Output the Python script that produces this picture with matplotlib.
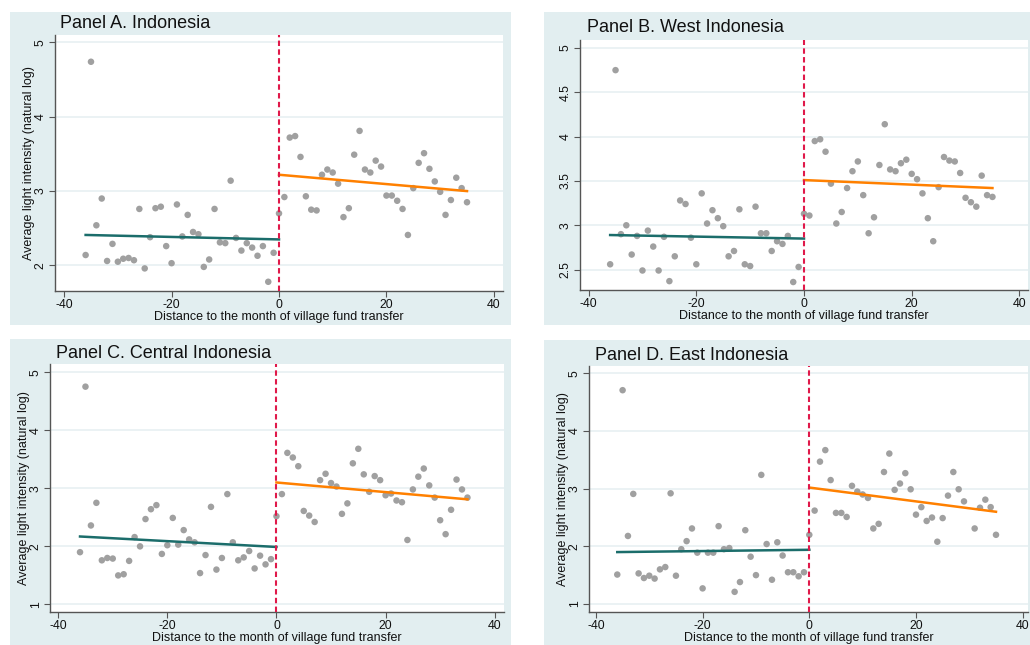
import matplotlib
matplotlib.use("Agg")
import matplotlib.pyplot as plt
from matplotlib.patches import Rectangle

plt.rcParams['font.family'] = ['Liberation Sans', 'DejaVu Sans']

# months relative to village fund transfer
months_pre = list(range(-36, 0))
months_post = list(range(0, 36))
months_post_east = [m for m in range(0, 36) if m != 30]  # month 30 missing in panel D

# Panel A. Indonesia
a_pre = [2.14, 4.74, 2.54, 2.90, 2.06, 2.29, 2.05, 2.09, 2.10, 2.07, 2.76, 1.96,
         2.38, 2.77, 2.79, 2.26, 2.03, 2.82, 2.39, 2.68, 2.45, 2.42, 1.98, 2.08,
         2.76, 2.31, 2.30, 3.14, 2.37, 2.20, 2.30, 2.24, 2.13, 2.26, 1.78, 2.17]
a_post = [2.70, 2.92, 3.72, 3.74, 3.46, 2.93, 2.75, 2.74, 3.22, 3.29, 3.25, 3.10,
          2.65, 2.77, 3.49, 3.81, 3.29, 3.25, 3.41, 3.33, 2.94, 2.94, 2.87, 2.76,
          2.41, 3.04, 3.38, 3.51, 3.30, 3.13, 2.99, 2.68, 2.88, 3.18, 3.04, 2.85]
a_fit_pre = [2.41, 2.35]
a_fit_post = [3.22, 3.00]

# Panel B. West Indonesia
b_pre = [2.56, 4.75, 2.90, 3.00, 2.67, 2.88, 2.49, 2.94, 2.76, 2.49, 2.87, 2.37,
         2.65, 3.28, 3.24, 2.86, 2.56, 3.36, 3.02, 3.17, 3.08, 2.99, 2.65, 2.71,
         3.18, 2.56, 2.54, 3.21, 2.91, 2.91, 2.71, 2.82, 2.79, 2.88, 2.36, 2.53]
b_post = [3.13, 3.11, 3.95, 3.97, 3.83, 3.47, 3.02, 3.15, 3.42, 3.61, 3.72, 3.34,
          2.91, 3.09, 3.68, 4.14, 3.63, 3.61, 3.70, 3.74, 3.58, 3.52, 3.36, 3.08,
          2.82, 3.43, 3.77, 3.73, 3.72, 3.59, 3.31, 3.26, 3.21, 3.56, 3.34, 3.32]
b_fit_pre = [2.89, 2.85]
b_fit_post = [3.51, 3.42]

# Panel C. Central Indonesia
c_pre = [1.90, 4.75, 2.36, 2.75, 1.76, 1.80, 1.79, 1.50, 1.52, 1.75, 2.16, 2.00,
         2.47, 2.64, 2.71, 1.87, 2.02, 2.49, 2.03, 2.28, 2.12, 2.07, 1.54, 1.85,
         2.68, 1.60, 1.80, 2.90, 2.07, 1.76, 1.81, 1.92, 1.62, 1.84, 1.69, 1.78]
c_post = [2.52, 2.90, 3.61, 3.53, 3.38, 2.61, 2.53, 2.42, 3.14, 3.25, 3.09, 3.03,
          2.56, 2.74, 3.43, 3.68, 3.24, 2.94, 3.21, 3.14, 2.88, 2.91, 2.79, 2.76,
          2.11, 2.98, 3.20, 3.34, 3.05, 2.84, 2.45, 2.21, 2.63, 3.15, 2.98, 2.84]
c_fit_pre = [2.17, 1.99]
c_fit_post = [3.10, 2.81]

# Panel D. East Indonesia
d_pre = [1.51, 4.71, 2.18, 2.91, 1.53, 1.45, 1.49, 1.44, 1.60, 1.64, 2.92, 1.49,
         1.95, 2.09, 2.31, 1.89, 1.27, 1.89, 1.89, 2.35, 1.95, 1.97, 1.21, 1.38,
         2.28, 1.82, 1.50, 3.24, 2.04, 1.42, 2.07, 1.84, 1.55, 1.55, 1.48, 1.55]
d_post = [2.20, 2.62, 3.47, 3.67, 3.15, 2.58, 2.58, 2.51, 3.05, 2.95, 2.90, 2.84,
          2.31, 2.39, 3.29, 3.61, 2.98, 3.09, 3.27, 2.99, 2.55, 2.68, 2.44, 2.50,
          2.08, 2.49, 2.88, 3.29, 2.99, 2.78, 2.31, 2.67, 2.81, 2.68, 2.20]
d_fit_pre = [1.90, 1.94]
d_fit_post = [3.02, 2.60]

fit_pre_x = [-36, 0]
fit_post_x = [0, 35]

BG = "#e2eef0"
GRID = "#e8f0f2"
AXIS = "#555555"
W, H = 1030, 645


def draw_panel(fig, box, rect, title, title_xy, post_x, pre, post, fit_pre, fit_post,
               ylim, yticks, ylabels, xlim, ylabel=True):
    # grey-blue panel background, in pixel coordinates
    x0, y0, x1, y1 = box
    fig.add_artist(Rectangle((x0 / W, 1 - y1 / H), (x1 - x0) / W, (y1 - y0) / H,
                             transform=fig.transFigure, facecolor=BG,
                             edgecolor="none", zorder=0))
    fig.text(title_xy[0] / W, 1 - title_xy[1] / H, title, fontsize=13,
             ha="left", va="center", color="#111111")

    ax = fig.add_axes(rect)
    ax.set_facecolor("white")
    for ytick in yticks:
        ax.axhline(ytick, color=GRID, lw=1.2, zorder=1)
    ax.scatter(months_pre, pre, s=22, color="#a0a0a0", edgecolors="none", zorder=3)
    ax.scatter(post_x, post, s=22, color="#a0a0a0", edgecolors="none", zorder=3)
    ax.plot(fit_pre_x, fit_pre, color="#1b6d6b", lw=1.8, zorder=4)
    ax.plot(fit_post_x, fit_post, color="#ff8000", lw=1.8, zorder=4)
    ax.axvline(0, color="#e0194a", lw=1.5, linestyle=(0, (2.6, 1.6)), zorder=5)

    ax.set_xlim(xlim)
    ax.set_ylim(ylim)
    ax.set_xticks([-40, -20, 0, 20, 40])
    ax.set_xticklabels(["-40", "-20", "0", "20", "40"])
    ax.set_yticks(yticks)
    ax.set_yticklabels(ylabels, rotation=90, va="center")
    ax.tick_params(axis="both", labelsize=8.8, length=4, width=0.8, color=AXIS,
                   pad=2, labelcolor="#111111")
    for side in ["top", "right"]:
        ax.spines[side].set_visible(False)
    for side in ["left", "bottom"]:
        ax.spines[side].set_color(AXIS)
        ax.spines[side].set_linewidth(1.0)
    ax.set_xlabel("Distance to the month of village fund transfer", fontsize=9,
                  labelpad=0, color="#111111")
    if ylabel:
        ax.set_ylabel("Average light intensity (natural log)", fontsize=9,
                      labelpad=0, color="#111111")
    return ax


fig = plt.figure(figsize=(W / 100, H / 100), dpi=100)

draw_panel(fig, (10, 12, 511, 325), [55 / W, 1 - 290.7 / H, 448 / W, 255.7 / H],
           "Panel A. Indonesia", (60, 23), months_post, a_pre, a_post,
           a_fit_pre, a_fit_post, (1.66, 5.10), [2, 3, 4, 5], ["2", "3", "4", "5"],
           (-41.7, 41.7))
draw_panel(fig, (544, 12, 1030, 325), [580 / W, 1 - 290 / H, 448 / W, 250 / H],
           "Panel B. West Indonesia", (587, 27), months_post, b_pre, b_post,
           b_fit_pre, b_fit_post, (2.27, 5.09), [2.5, 3, 3.5, 4, 4.5, 5],
           ["2.5", "3", "3.5", "4", "4.5", "5"], (-41.6, 41.6), ylabel=False)
draw_panel(fig, (10, 339, 511, 645), [50 / W, 1 - 612 / H, 454 / W, 248 / H],
           "Panel C. Central Indonesia", (56, 354), months_post, c_pre, c_post,
           c_fit_pre, c_fit_post, (0.87, 5.14), [1, 2, 3, 4, 5],
           ["1", "2", "3", "4", "5"], (-41.5, 41.7))
draw_panel(fig, (544, 340, 1030, 645), [589 / W, 1 - 612 / H, 439 / W, 246 / H],
           "Panel D. East Indonesia", (595, 355), months_post_east, d_pre, d_post,
           d_fit_pre, d_fit_post, (0.86, 5.13), [1, 2, 3, 4, 5],
           ["1", "2", "3", "4", "5"], (-41.3, 41.0))

fig.savefig("out.png", dpi=100, facecolor="white")
